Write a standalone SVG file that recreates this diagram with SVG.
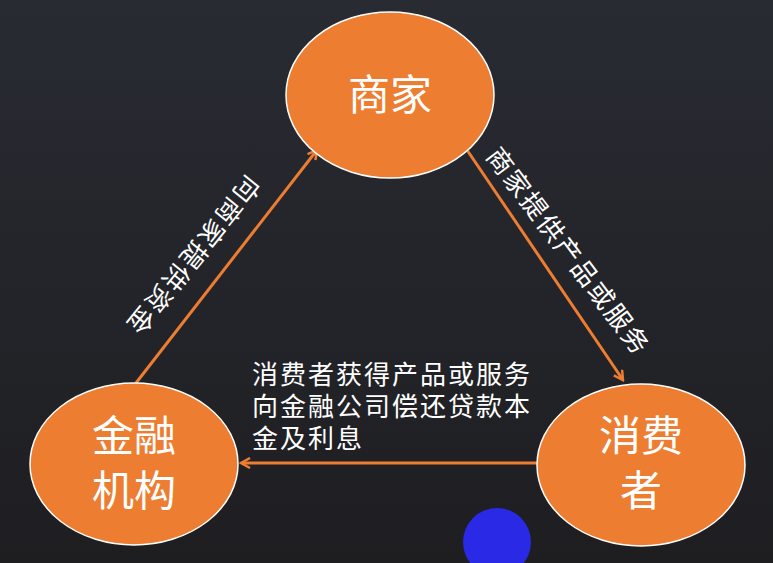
<svg xmlns="http://www.w3.org/2000/svg" width="773" height="563" viewBox="0 0 773 563">
<defs>
<linearGradient id="bg" x1="0" y1="0" x2="0" y2="1">
<stop offset="0" stop-color="#292b33"/>
<stop offset="1" stop-color="#1e1e21"/>
</linearGradient>
<marker id="ah" viewBox="0 0 12 12" refX="10" refY="6" markerWidth="12" markerHeight="12" markerUnits="userSpaceOnUse" orient="auto">
<path d="M1,1 L10,6 L1,11" fill="none" stroke="#ed7d31" stroke-width="2.5" stroke-linejoin="miter"/>
</marker>
<style>
.node{fill:#ed7d31;stroke:#ffffff;stroke-width:1.5}
.nt{fill:#ffffff;font-family:"Noto Sans CJK SC","Noto Sans",sans-serif;font-size:42px;text-anchor:middle}
.lbl{fill:#ffffff;font-family:"Noto Sans CJK SC","Noto Sans",sans-serif;font-size:26px;letter-spacing:2px}
.edge{stroke:#ed7d31;stroke-width:3;fill:none}
</style>
</defs>
<rect width="773" height="563" fill="url(#bg)"/>
<g id="connectors">
<line class="edge" x1="136" y1="383" x2="317" y2="150" marker-end="url(#ah)"/>
<line class="edge" x1="465" y1="147" x2="623" y2="380" marker-end="url(#ah)"/>
<line class="edge" x1="537" y1="463" x2="241" y2="463" marker-end="url(#ah)"/>
<text class="lbl" x="0" y="0" text-anchor="middle" dominant-baseline="central" transform="translate(195,257) rotate(129)">向商家提供资金</text>
<text class="lbl" x="0" y="0" text-anchor="middle" dominant-baseline="central" transform="translate(570,250) rotate(53)">商家提供产品或服务</text>
<text class="lbl" x="252" y="384">消费者获得产品或服务</text>
<text class="lbl" x="252" y="416">向金融公司偿还贷款本</text>
<text class="lbl" x="252" y="448">金及利息</text>
</g>
<g id="merchant">
<ellipse class="node" cx="390" cy="95" rx="104" ry="83"/>
<text class="nt" x="390" y="110">商家</text>
</g>
<g id="finance">
<ellipse class="node" cx="134" cy="464" rx="104" ry="81"/>
<text class="nt" x="134" y="451">金融</text>
<text class="nt" x="134" y="506">机构</text>
</g>
<g id="consumer">
<ellipse class="node" cx="641" cy="465" rx="104" ry="81"/>
<text class="nt" x="641" y="451">消费</text>
<text class="nt" x="641" y="506">者</text>
</g>
<g id="dot">
<circle cx="497" cy="542" r="34" fill="#2a2ae6"/>
</g>
</svg>
